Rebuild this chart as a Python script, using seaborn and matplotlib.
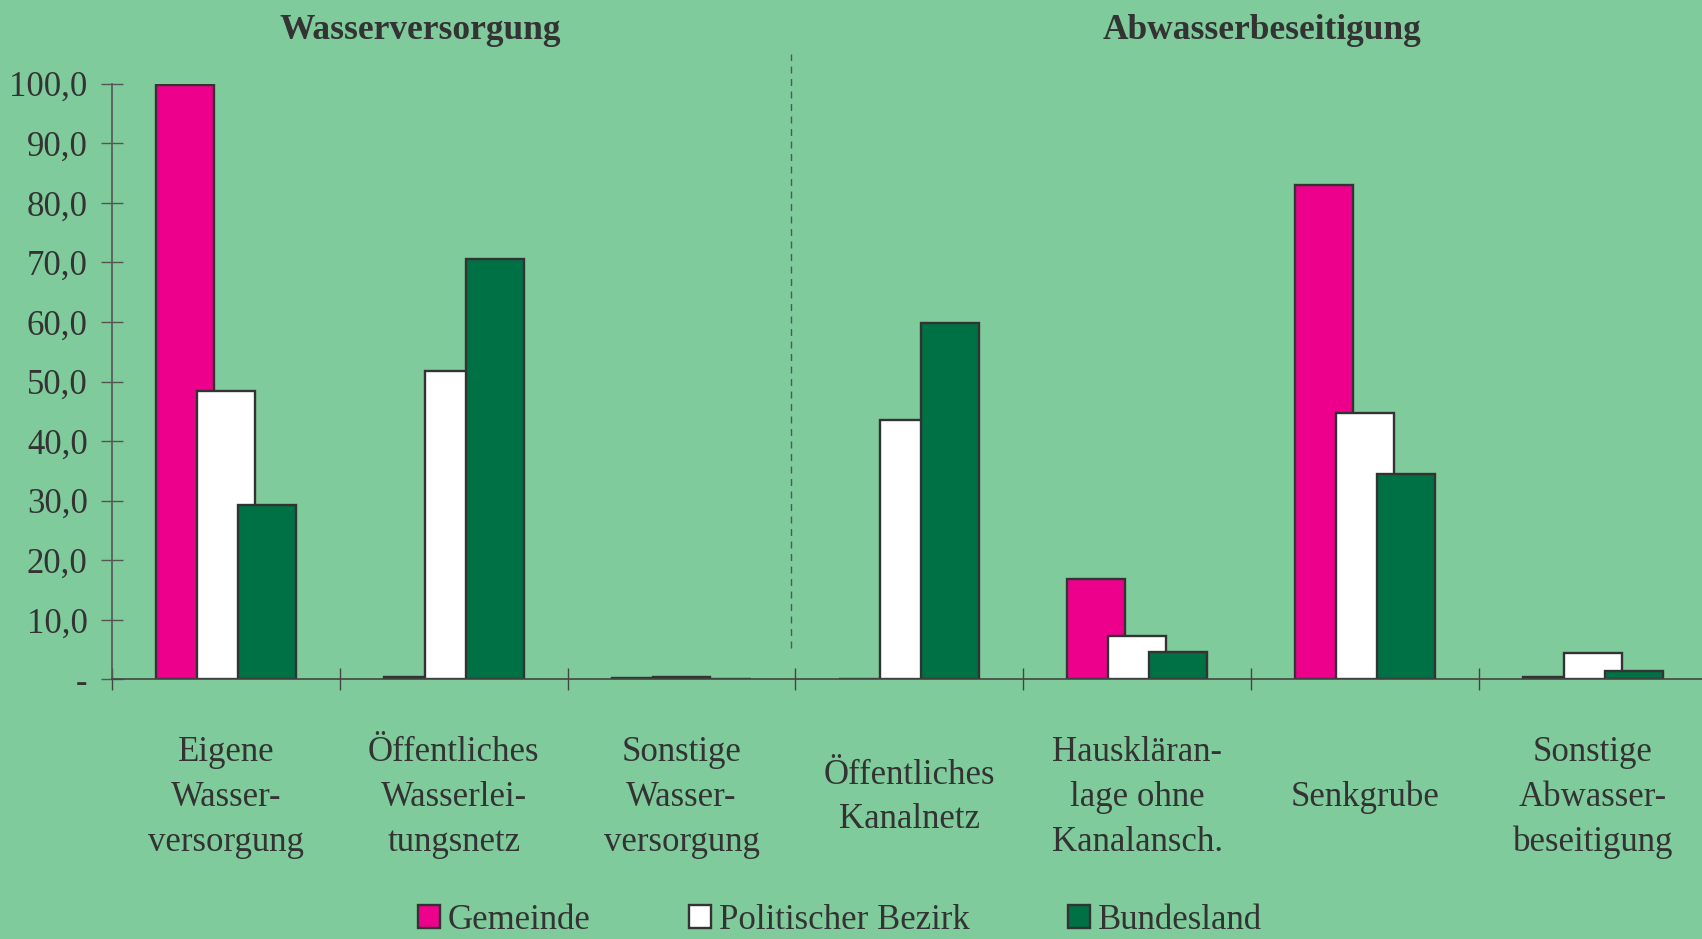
import matplotlib
matplotlib.use('Agg')
import matplotlib.pyplot as plt
from matplotlib.patches import Patch
import seaborn as sns
import pandas as pd

categories = ['Eigene\nWasser-\nversorgung', 'Öffentliches\nWasserlei-\ntungsnetz',
              'Sonstige\nWasser-\nversorgung', 'Öffentliches\nKanalnetz',
              'Hauskläran-\nlage ohne\nKanalansch.', 'Senkgrube',
              'Sonstige\nAbwasser-\nbeseitigung']
series = ['Gemeinde', 'Politischer Bezirk', 'Bundesland']
gemeinde = [99.7, 0.4, 0.3, 0.0, 16.9, 82.9, 0.4]
bezirk = [48.4, 51.7, 0.4, 43.5, 7.3, 44.8, 4.5]
bundesland = [29.3, 70.5, 0.0, 59.9, 4.6, 34.4, 1.4]
yticks = [0, 10, 20, 30, 40, 50, 60, 70, 80, 90, 100]
ytick_labels = ['-', '10,0', '20,0', '30,0', '40,0', '50,0', '60,0', '70,0', '80,0', '90,0', '100,0']

BG = '#80CB9C'
COLORS = ['#EC008C', '#FFFFFF', '#007045']
EDGE = '#333333'

rows = []
for s, vals in zip(series, [gemeinde, bezirk, bundesland]):
    for c, v in zip(categories, vals):
        rows.append({'cat': c, 'series': s, 'value': v})
df = pd.DataFrame(rows)

sns.set_style('white')
plt.rcParams['font.family'] = ['Liberation Serif', 'DejaVu Serif']
plt.rcParams['text.color'] = EDGE

fig = plt.figure(figsize=(17.02, 9.39), dpi=100, facecolor=BG)
ax = fig.add_axes([0.0658, 0.2764, 0.937, 0.6346])
ax.set_facecolor(BG)

sns.barplot(data=df, x='cat', y='value', hue='series', palette=COLORS,
            width=0.54, dodge=True, edgecolor=EDGE, linewidth=1.7,
            saturation=1, legend=False, ax=ax)

# widen bars so neighbours overlap like in the original
for p in ax.patches:
    cx = p.get_x() + p.get_width() / 2
    p.set_width(0.254)
    p.set_x(cx - 0.127)

ax.set_xlim(-0.5, 6.5)
ax.set_ylim(0, 100)
ax.set_xlabel('')
ax.set_ylabel('')

ax.set_yticks(yticks)
ax.set_yticklabels(ytick_labels)
ax.tick_params(axis='y', left=True, direction='inout', length=16, width=1, color='#555555',
               labelsize=25, pad=9.5, labelcolor=EDGE)

ax.set_xticks(range(len(categories)))
ax.set_xticklabels(categories, linespacing=1.47)
ax.tick_params(axis='x', which='major', length=0, labelsize=25, pad=85, labelcolor=EDGE)
for t in ax.get_xticklabels():
    t.set_va('center')
    t.set_multialignment('center')
ax.set_xticks([i - 0.5 for i in range(len(categories) + 1)], minor=True)
ax.tick_params(axis='x', which='minor', bottom=True, direction='inout', length=16,
               width=1, color='#444444')

for side in ['top', 'right']:
    ax.spines[side].set_visible(False)
ax.spines['left'].set_color('#555555')
ax.spines['bottom'].set_color('#444444')
ax.spines['left'].set_linewidth(1.2)
ax.spines['bottom'].set_linewidth(1.2)

ax.axvline(2.48, ymin=0.053, ymax=1.05, color='#555555', linestyle=(0, (5, 4)),
           linewidth=1, clip_on=False)

fig.text(0.247, 0.967, 'Wasserversorgung', ha='center', va='center',
         fontsize=25.5, fontweight='bold', color=EDGE)
fig.text(0.7415, 0.967, 'Abwasserbeseitigung', ha='center', va='center',
         fontsize=25.5, fontweight='bold', color=EDGE)

handles = [Patch(facecolor=c, edgecolor=EDGE, linewidth=1.7) for c in COLORS]
fig.legend(handles, series, loc='center', bbox_to_anchor=(0.4935, 0.02),
           ncol=3, frameon=False, fontsize=25, handlelength=0.63, handleheight=0.63,
           handletextpad=0.22, columnspacing=2.85, borderaxespad=0)

fig.savefig('out.png', dpi=100, facecolor=BG)
